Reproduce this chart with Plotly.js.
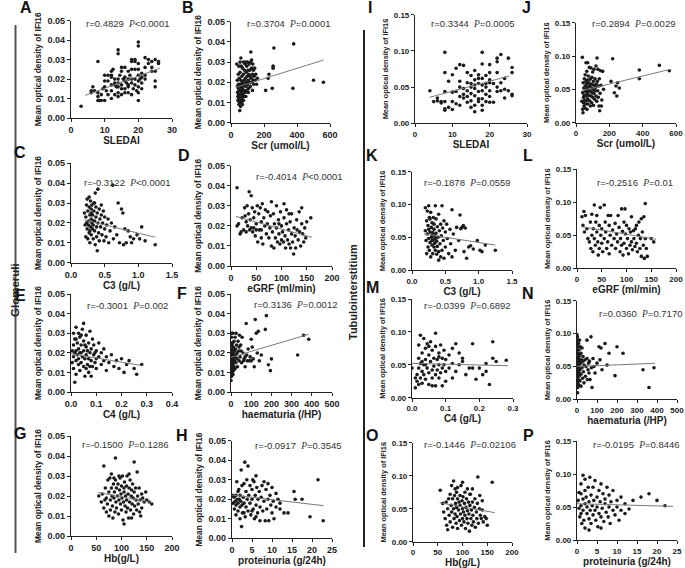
<!DOCTYPE html>
<html>
<head>
<meta charset="utf-8">
<script src="https://cdn.plot.ly/plotly-3.0.1.min.js"></script>
<style>
  html, body { margin: 0; padding: 0; background: #fff; }
  #plot { width: 685px; height: 568px; }
</style>
</head>
<body>
<div id="plot"></div>
<script>
// ---- data: [x, mean optical density of IFI16] ----
var ptsA = [[3,0.006],[6,0.014],[6,0.013],[6.5,0.016],[7,0.014],[8,0.029],[8,0.009],[8,0.011],[8,0.013],[8.5,0.009],[9,0.009],[9,0.012],[9.5,0.015],[10,0.009],[10,0.016],[10,0.019],[10,0.022],[10.5,0.014],[11,0.022],[11,0.012],[11,0.019],[12,0.022],[12,0.021],[12,0.017],[12,0.014],[12,0.010],[12,0.024],[12.5,0.025],[13,0.018],[13,0.017],[13,0.012],[13,0.020],[13.5,0.016],[14,0.035],[14,0.033],[14,0.018],[14,0.016],[14,0.013],[14,0.011],[14,0.020],[14.5,0.022],[15,0.026],[15,0.024],[15,0.017],[15,0.012],[15,0.015],[15.5,0.020],[16,0.026],[16,0.021],[16,0.019],[16,0.013],[16,0.015],[16.5,0.018],[17,0.024],[17,0.020],[17,0.017],[17,0.013],[17,0.016],[17.5,0.022],[18,0.025],[18,0.030],[18,0.029],[18,0.020],[18,0.018],[18,0.012],[18.5,0.015],[19,0.030],[19,0.029],[19,0.025],[19,0.020],[19,0.017],[19.5,0.014],[20,0.039],[20,0.037],[20,0.028],[20,0.025],[20,0.022],[20,0.019],[20,0.016],[20,0.013],[20,0.009],[20.5,0.020],[21,0.021],[21,0.018],[21,0.015],[21,0.023],[22,0.031],[22,0.026],[22,0.022],[22,0.020],[23,0.030],[23,0.028],[24,0.029],[24,0.026],[24,0.024],[25,0.030],[25,0.024],[25,0.019],[25,0.016],[26,0.029],[26,0.028]];
var ptsB = [[35,0.029],[38,0.021],[40,0.018],[40,0.015],[42,0.013],[42,0.011],[44,0.024],[45,0.019],[45,0.017],[46,0.014],[47,0.012],[48,0.009],[48,0.028],[50,0.022],[50,0.016],[51,0.010],[52,0.013],[53,0.006],[54,0.019],[55,0.030],[55,0.025],[56,0.014],[57,0.011],[58,0.018],[58,0.008],[60,0.021],[60,0.016],[61,0.013],[62,0.028],[63,0.010],[64,0.019],[65,0.015],[66,0.023],[67,0.012],[68,0.017],[69,0.009],[70,0.027],[70,0.020],[72,0.014],[73,0.018],[75,0.030],[75,0.024],[76,0.011],[78,0.016],[80,0.021],[80,0.013],[82,0.026],[84,0.019],[85,0.029],[86,0.015],[88,0.022],[90,0.030],[90,0.018],[92,0.025],[94,0.020],[95,0.016],[96,0.028],[98,0.023],[100,0.019],[100,0.030],[103,0.026],[105,0.021],[107,0.017],[108,0.024],[110,0.029],[112,0.020],[114,0.026],[115,0.023],[117,0.018],[119,0.030],[120,0.035],[122,0.022],[124,0.027],[125,0.031],[127,0.020],[130,0.024],[132,0.029],[134,0.021],[136,0.026],[138,0.019],[140,0.023],[143,0.027],[146,0.021],[150,0.024],[155,0.019],[160,0.022],[90,0.013],[105,0.015],[60,0.032],[130,0.016],[210,0.016],[225,0.022],[230,0.024],[250,0.017],[255,0.028],[255,0.027],[260,0.037],[380,0.039],[375,0.017],[500,0.021],[560,0.020]];
var ptsC = [[0.2,0.025],[0.21,0.019],[0.22,0.023],[0.22,0.013],[0.23,0.020],[0.23,0.029],[0.24,0.017],[0.24,0.032],[0.25,0.026],[0.25,0.012],[0.26,0.021],[0.26,0.019],[0.27,0.028],[0.27,0.015],[0.28,0.024],[0.28,0.010],[0.29,0.018],[0.29,0.031],[0.3,0.022],[0.3,0.027],[0.3,0.014],[0.31,0.020],[0.31,0.029],[0.32,0.017],[0.32,0.024],[0.33,0.012],[0.33,0.019],[0.34,0.030],[0.34,0.026],[0.35,0.021],[0.35,0.016],[0.36,0.035],[0.36,0.009],[0.37,0.023],[0.37,0.028],[0.38,0.018],[0.38,0.013],[0.39,0.006],[0.39,0.025],[0.4,0.037],[0.4,0.020],[0.41,0.015],[0.42,0.027],[0.42,0.011],[0.43,0.022],[0.44,0.018],[0.45,0.024],[0.45,0.029],[0.46,0.014],[0.47,0.020],[0.48,0.026],[0.49,0.011],[0.5,0.017],[0.5,0.023],[0.52,0.013],[0.53,0.019],[0.55,0.022],[0.56,0.010],[0.58,0.016],[0.6,0.020],[0.62,0.039],[0.63,0.012],[0.65,0.018],[0.68,0.014],[0.7,0.030],[0.72,0.010],[0.75,0.027],[0.77,0.025],[0.78,0.009],[0.8,0.017],[0.82,0.010],[0.85,0.016],[0.88,0.013],[0.9,0.010],[0.93,0.012],[0.98,0.014],[1.02,0.012],[1.05,0.018],[1.1,0.011],[1.25,0.009],[0.27,0.033],[0.3,0.025],[0.33,0.021],[0.28,0.016],[0.35,0.030]];
var ptsD = [[12,0.039],[12,0.020],[15,0.021],[18,0.016],[20,0.017],[22,0.024],[25,0.018],[27,0.029],[28,0.025],[30,0.022],[30,0.017],[32,0.030],[33,0.020],[35,0.026],[36,0.037],[37,0.018],[38,0.023],[40,0.035],[40,0.019],[42,0.029],[43,0.017],[45,0.024],[45,0.019],[47,0.027],[48,0.015],[50,0.021],[50,0.018],[52,0.030],[53,0.012],[55,0.026],[56,0.018],[58,0.029],[60,0.014],[60,0.022],[62,0.031],[63,0.011],[65,0.024],[67,0.020],[68,0.028],[70,0.016],[72,0.021],[73,0.027],[75,0.014],[77,0.019],[78,0.025],[80,0.032],[80,0.010],[82,0.017],[84,0.026],[85,0.009],[86,0.021],[88,0.014],[90,0.030],[90,0.019],[92,0.012],[94,0.023],[95,0.016],[97,0.011],[98,0.027],[100,0.020],[100,0.013],[102,0.017],[104,0.012],[105,0.024],[107,0.015],[108,0.009],[110,0.021],[110,0.028],[112,0.013],[114,0.018],[115,0.011],[117,0.022],[118,0.009],[120,0.016],[120,0.026],[122,0.012],[124,0.006],[125,0.019],[127,0.015],[128,0.009],[130,0.023],[131,0.018],[133,0.013],[135,0.027],[136,0.017],[138,0.010],[140,0.029],[140,0.021],[142,0.016],[144,0.012],[146,0.019],[148,0.014],[150,0.022],[158,0.024],[105,0.031],[115,0.026],[60,0.018],[95,0.021]];
var ptsE = [[0.01,0.030],[0.01,0.024],[0.01,0.018],[0.01,0.012],[0.015,0.020],[0.015,0.027],[0.02,0.033],[0.02,0.016],[0.02,0.021],[0.02,0.009],[0.025,0.025],[0.025,0.019],[0.03,0.030],[0.03,0.014],[0.03,0.022],[0.03,0.017],[0.035,0.028],[0.035,0.011],[0.04,0.020],[0.04,0.024],[0.04,0.015],[0.045,0.032],[0.045,0.018],[0.05,0.026],[0.05,0.021],[0.05,0.013],[0.05,0.035],[0.055,0.017],[0.055,0.008],[0.06,0.023],[0.06,0.019],[0.06,0.029],[0.065,0.014],[0.065,0.021],[0.07,0.025],[0.07,0.017],[0.07,0.010],[0.075,0.020],[0.075,0.031],[0.08,0.016],[0.08,0.022],[0.085,0.013],[0.085,0.027],[0.09,0.019],[0.09,0.024],[0.095,0.015],[0.1,0.021],[0.1,0.017],[0.1,0.012],[0.11,0.018],[0.11,0.025],[0.12,0.014],[0.12,0.020],[0.13,0.016],[0.13,0.022],[0.14,0.011],[0.14,0.018],[0.15,0.015],[0.16,0.019],[0.17,0.013],[0.18,0.016],[0.19,0.012],[0.2,0.017],[0.21,0.010],[0.22,0.014],[0.23,0.016],[0.25,0.012],[0.26,0.009],[0.28,0.014],[0.02,0.027],[0.04,0.029],[0.06,0.012],[0.08,0.008],[0.015,0.005],[0.035,0.020],[0.055,0.024],[0.075,0.013],[0.095,0.020],[0.005,0.021],[0.005,0.015]];
var ptsF = [[0,0.006],[0,0.010],[0,0.013],[0,0.016],[0,0.019],[0,0.022],[0,0.025],[2,0.008],[2,0.012],[2,0.015],[2,0.018],[2,0.021],[2,0.028],[4,0.009],[4,0.011],[4,0.014],[4,0.017],[4,0.020],[4,0.024],[4,0.030],[6,0.010],[6,0.013],[6,0.016],[6,0.019],[6,0.022],[8,0.012],[8,0.015],[8,0.018],[8,0.025],[10,0.009],[10,0.014],[10,0.020],[10,0.030],[12,0.011],[12,0.017],[12,0.023],[14,0.019],[15,0.013],[15,0.026],[17,0.016],[18,0.021],[20,0.012],[20,0.018],[20,0.028],[22,0.022],[24,0.015],[25,0.019],[25,0.030],[28,0.024],[30,0.017],[30,0.020],[32,0.013],[35,0.026],[38,0.021],[40,0.016],[40,0.023],[42,0.029],[45,0.018],[48,0.024],[50,0.021],[52,0.015],[55,0.028],[60,0.020],[62,0.016],[65,0.017],[70,0.018],[70,0.013],[75,0.035],[78,0.019],[80,0.016],[85,0.022],[90,0.016],[95,0.018],[100,0.027],[100,0.016],[105,0.023],[110,0.017],[115,0.013],[120,0.037],[125,0.030],[130,0.020],[135,0.031],[140,0.016],[150,0.019],[170,0.032],[175,0.039],[185,0.014],[195,0.011],[200,0.017],[330,0.019],[360,0.029],[385,0.027]];
var ptsG = [[55,0.020],[60,0.017],[62,0.021],[65,0.035],[65,0.014],[67,0.018],[68,0.024],[70,0.012],[70,0.019],[72,0.016],[73,0.028],[75,0.022],[75,0.010],[77,0.029],[78,0.018],[78,0.013],[80,0.031],[80,0.024],[81,0.020],[82,0.015],[83,0.009],[84,0.026],[85,0.019],[86,0.022],[87,0.012],[88,0.039],[88,0.028],[89,0.017],[90,0.024],[90,0.014],[92,0.020],[93,0.026],[94,0.011],[95,0.018],[96,0.023],[97,0.029],[98,0.016],[99,0.021],[100,0.013],[100,0.025],[101,0.019],[102,0.030],[103,0.008],[104,0.017],[105,0.022],[105,0.006],[106,0.027],[107,0.015],[108,0.020],[109,0.012],[110,0.025],[110,0.018],[111,0.030],[112,0.014],[113,0.021],[114,0.009],[115,0.024],[116,0.017],[117,0.028],[118,0.013],[119,0.020],[120,0.023],[120,0.009],[121,0.016],[122,0.026],[123,0.019],[124,0.011],[125,0.037],[125,0.022],[126,0.015],[128,0.024],[129,0.018],[130,0.013],[131,0.032],[132,0.020],[133,0.016],[135,0.024],[136,0.012],[137,0.018],[138,0.010],[140,0.021],[140,0.014],[142,0.019],[145,0.017],[148,0.022],[150,0.018],[155,0.017],[160,0.016],[85,0.029],[95,0.030],[115,0.031],[105,0.024]];
var ptsH = [[0.3,0.018],[0.5,0.021],[0.6,0.015],[0.8,0.019],[1,0.017],[1,0.022],[1,0.012],[1.2,0.029],[1.3,0.020],[1.5,0.018],[1.5,0.014],[1.7,0.025],[1.8,0.020],[2,0.016],[2,0.022],[2,0.010],[2.2,0.019],[2.3,0.035],[2.4,0.006],[2.5,0.027],[2.6,0.013],[2.8,0.021],[3,0.018],[3,0.028],[3.2,0.039],[3.3,0.011],[3.5,0.024],[3.5,0.016],[3.7,0.030],[3.8,0.020],[4,0.014],[4,0.037],[4.2,0.022],[4.5,0.018],[4.5,0.027],[4.7,0.012],[5,0.025],[5,0.020],[5.2,0.030],[5.3,0.015],[5.5,0.029],[5.6,0.010],[5.8,0.022],[6,0.032],[6,0.017],[6.2,0.026],[6.4,0.013],[6.5,0.020],[6.8,0.024],[7,0.016],[7,0.009],[7.3,0.021],[7.5,0.027],[7.7,0.014],[8,0.029],[8,0.019],[8.3,0.009],[8.5,0.025],[8.7,0.015],[9,0.028],[9,0.020],[9.2,0.009],[9.5,0.022],[9.7,0.017],[10,0.026],[10,0.013],[10.3,0.019],[10.5,0.010],[11,0.023],[11,0.016],[11.5,0.020],[12,0.015],[12,0.018],[13,0.013],[14,0.013],[15.5,0.024],[15.8,0.020],[17.5,0.020],[19.5,0.011],[21.5,0.030],[22.8,0.009],[1.5,0.024],[2.5,0.017],[3,0.013],[0.2,0.022],[6,0.011],[5,0.014]];
var ptsI = [[4,0.045],[5,0.030],[6,0.031],[6,0.035],[7,0.030],[7,0.028],[8,0.098],[8,0.070],[8,0.044],[8,0.020],[8,0.018],[8,0.030],[9,0.058],[9,0.022],[10,0.067],[10,0.043],[10,0.030],[10,0.019],[11,0.076],[11,0.044],[11,0.027],[12,0.081],[12,0.058],[12,0.037],[12,0.025],[12,0.050],[13,0.080],[13,0.048],[13,0.035],[13,0.040],[14,0.070],[14,0.056],[14,0.045],[14,0.037],[14,0.029],[15,0.066],[15,0.055],[15,0.050],[15,0.041],[15,0.031],[16,0.073],[16,0.060],[16,0.053],[16,0.048],[16,0.038],[16,0.025],[16,0.016],[17,0.067],[17,0.055],[17,0.044],[17,0.034],[17,0.030],[18,0.098],[18,0.082],[18,0.062],[18,0.053],[18,0.045],[18,0.034],[18,0.025],[18,0.018],[19,0.066],[19,0.050],[19,0.040],[19,0.030],[20,0.081],[20,0.070],[20,0.060],[20,0.056],[20,0.045],[20,0.037],[20,0.029],[21,0.055],[21,0.029],[22,0.090],[22,0.085],[22,0.070],[22,0.050],[22,0.044],[23,0.095],[23,0.056],[23,0.045],[24,0.062],[24,0.047],[24,0.035],[25,0.090],[25,0.045],[26,0.077],[26,0.070],[26,0.040],[26,0.038],[19,0.055],[17,0.062],[15,0.022]];
var ptsJ = [[35,0.032],[38,0.098],[40,0.045],[40,0.020],[42,0.015],[43,0.060],[45,0.038],[45,0.030],[47,0.052],[48,0.025],[50,0.066],[50,0.041],[52,0.034],[53,0.022],[55,0.072],[55,0.055],[57,0.047],[58,0.028],[60,0.090],[60,0.062],[61,0.040],[62,0.033],[63,0.058],[65,0.077],[65,0.050],[66,0.020],[67,0.044],[68,0.064],[70,0.090],[70,0.036],[71,0.053],[72,0.028],[74,0.070],[75,0.048],[76,0.060],[78,0.041],[80,0.083],[80,0.055],[82,0.033],[84,0.065],[85,0.047],[86,0.025],[88,0.058],[90,0.082],[90,0.040],[92,0.052],[94,0.030],[95,0.068],[97,0.045],[98,0.057],[100,0.076],[100,0.038],[102,0.050],[104,0.062],[105,0.026],[107,0.044],[108,0.080],[110,0.056],[112,0.035],[114,0.066],[115,0.048],[117,0.053],[120,0.085],[120,0.040],[122,0.058],[125,0.032],[126,0.097],[128,0.062],[130,0.048],[132,0.080],[134,0.038],[136,0.055],[138,0.025],[140,0.066],[142,0.018],[145,0.044],[148,0.078],[150,0.056],[152,0.025],[155,0.034],[160,0.077],[165,0.050],[210,0.062],[220,0.096],[230,0.045],[240,0.055],[245,0.040],[250,0.060],[260,0.052],[380,0.079],[380,0.066],[500,0.086],[560,0.078]];
var ptsK = [[0.2,0.095],[0.2,0.060],[0.21,0.045],[0.22,0.025],[0.22,0.075],[0.23,0.090],[0.23,0.055],[0.24,0.035],[0.24,0.068],[0.25,0.048],[0.25,0.098],[0.26,0.080],[0.26,0.030],[0.27,0.058],[0.27,0.042],[0.28,0.088],[0.28,0.020],[0.29,0.065],[0.29,0.050],[0.3,0.072],[0.3,0.038],[0.3,0.045],[0.31,0.057],[0.31,0.025],[0.32,0.080],[0.32,0.046],[0.33,0.062],[0.33,0.035],[0.34,0.052],[0.34,0.041],[0.35,0.098],[0.35,0.030],[0.36,0.078],[0.36,0.056],[0.37,0.044],[0.37,0.024],[0.38,0.066],[0.38,0.036],[0.39,0.050],[0.4,0.085],[0.4,0.015],[0.41,0.060],[0.42,0.040],[0.43,0.070],[0.43,0.020],[0.44,0.052],[0.45,0.098],[0.45,0.030],[0.46,0.064],[0.47,0.045],[0.48,0.075],[0.48,0.018],[0.5,0.058],[0.5,0.035],[0.52,0.070],[0.53,0.048],[0.55,0.025],[0.57,0.062],[0.58,0.040],[0.6,0.092],[0.6,0.020],[0.62,0.055],[0.65,0.030],[0.67,0.065],[0.7,0.045],[0.72,0.084],[0.73,0.063],[0.75,0.065],[0.77,0.068],[0.78,0.028],[0.8,0.064],[0.82,0.018],[0.85,0.035],[0.88,0.037],[0.92,0.032],[0.98,0.045],[1.02,0.030],[1.05,0.028],[1.1,0.038],[1.25,0.030],[0.25,0.062],[0.3,0.052],[0.35,0.048],[0.27,0.078],[0.4,0.028],[0.33,0.070]];
var ptsL = [[10,0.078],[12,0.065],[14,0.086],[15,0.055],[17,0.080],[20,0.060],[22,0.045],[25,0.040],[27,0.070],[28,0.030],[30,0.082],[30,0.050],[32,0.025],[33,0.060],[35,0.096],[35,0.045],[37,0.035],[38,0.070],[40,0.080],[40,0.055],[42,0.040],[43,0.020],[45,0.065],[45,0.030],[47,0.092],[48,0.050],[50,0.060],[50,0.038],[52,0.025],[55,0.096],[55,0.045],[57,0.070],[58,0.055],[60,0.030],[62,0.040],[63,0.080],[65,0.065],[65,0.022],[67,0.050],[68,0.080],[70,0.035],[72,0.058],[75,0.045],[77,0.068],[78,0.030],[80,0.052],[82,0.040],[83,0.080],[85,0.062],[87,0.025],[88,0.045],[90,0.090],[90,0.035],[92,0.056],[93,0.020],[95,0.070],[95,0.038],[97,0.090],[98,0.052],[100,0.065],[100,0.030],[102,0.045],[104,0.022],[105,0.060],[107,0.035],[108,0.055],[110,0.078],[110,0.040],[112,0.028],[114,0.057],[115,0.045],[117,0.033],[118,0.060],[120,0.038],[120,0.065],[122,0.025],[124,0.050],[125,0.070],[127,0.030],[128,0.045],[130,0.075],[130,0.018],[132,0.055],[134,0.035],[135,0.078],[136,0.015],[138,0.098],[138,0.045],[140,0.030],[142,0.018],[150,0.045],[155,0.040]];
var ptsM = [[0.0,0.045],[0.01,0.015],[0.01,0.030],[0.015,0.025],[0.015,0.035],[0.02,0.020],[0.02,0.080],[0.02,0.060],[0.02,0.045],[0.025,0.052],[0.025,0.095],[0.025,0.030],[0.03,0.068],[0.03,0.040],[0.03,0.022],[0.035,0.090],[0.035,0.050],[0.035,0.035],[0.04,0.075],[0.04,0.058],[0.04,0.028],[0.045,0.082],[0.045,0.045],[0.05,0.065],[0.05,0.038],[0.05,0.020],[0.055,0.085],[0.055,0.055],[0.06,0.072],[0.06,0.042],[0.06,0.030],[0.065,0.060],[0.065,0.048],[0.07,0.098],[0.07,0.078],[0.07,0.035],[0.07,0.018],[0.075,0.058],[0.075,0.042],[0.08,0.068],[0.08,0.050],[0.08,0.030],[0.085,0.080],[0.085,0.038],[0.09,0.060],[0.09,0.045],[0.09,0.018],[0.095,0.072],[0.095,0.050],[0.1,0.040],[0.1,0.058],[0.1,0.025],[0.11,0.065],[0.11,0.045],[0.12,0.075],[0.12,0.052],[0.12,0.030],[0.13,0.082],[0.13,0.040],[0.14,0.068],[0.14,0.050],[0.15,0.055],[0.15,0.060],[0.16,0.035],[0.17,0.045],[0.18,0.082],[0.18,0.045],[0.19,0.028],[0.2,0.045],[0.21,0.035],[0.22,0.052],[0.22,0.040],[0.23,0.020],[0.24,0.085],[0.24,0.060],[0.25,0.055],[0.28,0.057],[0.03,0.055],[0.05,0.078],[0.08,0.062],[0.06,0.018],[0.04,0.050]];
var ptsN = [[0,0.098],[0,0.085],[0,0.070],[0,0.060],[0,0.050],[0,0.040],[0,0.030],[0,0.020],[2,0.095],[2,0.075],[2,0.055],[2,0.045],[2,0.035],[2,0.025],[3,0.065],[4,0.090],[4,0.080],[4,0.050],[4,0.038],[4,0.028],[4,0.018],[6,0.070],[6,0.058],[6,0.042],[6,0.030],[8,0.085],[8,0.062],[8,0.048],[8,0.022],[10,0.075],[10,0.052],[10,0.035],[12,0.090],[12,0.058],[12,0.040],[14,0.068],[15,0.045],[15,0.028],[17,0.080],[18,0.055],[20,0.070],[20,0.038],[20,0.020],[22,0.060],[25,0.048],[25,0.078],[28,0.032],[30,0.058],[30,0.065],[32,0.042],[35,0.052],[35,0.025],[40,0.060],[42,0.035],[45,0.050],[50,0.090],[50,0.062],[52,0.030],[55,0.045],[58,0.055],[60,0.040],[62,0.058],[65,0.030],[70,0.095],[72,0.048],[75,0.018],[80,0.062],[85,0.050],[90,0.040],[100,0.055],[110,0.080],[115,0.060],[120,0.078],[125,0.045],[140,0.085],[150,0.052],[160,0.070],[190,0.036],[200,0.080],[230,0.070],[330,0.045],[360,0.018],[385,0.048],[5,0.060],[10,0.065],[3,0.010]];
var ptsO = [[55,0.078],[60,0.058],[62,0.045],[65,0.035],[67,0.060],[68,0.025],[70,0.050],[70,0.018],[72,0.065],[73,0.040],[75,0.072],[75,0.030],[77,0.055],[78,0.085],[78,0.045],[80,0.065],[80,0.022],[82,0.092],[82,0.050],[83,0.035],[84,0.070],[85,0.080],[85,0.042],[86,0.058],[87,0.028],[88,0.075],[88,0.052],[89,0.038],[90,0.065],[90,0.020],[92,0.048],[93,0.060],[94,0.032],[95,0.070],[95,0.055],[96,0.042],[97,0.085],[98,0.025],[99,0.062],[100,0.050],[100,0.035],[101,0.068],[102,0.045],[103,0.030],[104,0.058],[105,0.075],[105,0.040],[106,0.020],[107,0.052],[108,0.065],[109,0.035],[110,0.080],[110,0.047],[111,0.028],[112,0.060],[113,0.042],[114,0.016],[115,0.055],[116,0.072],[117,0.035],[118,0.048],[119,0.025],[120,0.080],[120,0.060],[121,0.040],[122,0.030],[124,0.052],[125,0.065],[126,0.022],[128,0.045],[129,0.035],[130,0.058],[131,0.098],[132,0.028],[134,0.050],[135,0.070],[136,0.040],[138,0.035],[140,0.048],[140,0.062],[142,0.030],[145,0.038],[148,0.035],[150,0.025],[160,0.090],[90,0.082],[100,0.090],[115,0.072]];
var ptsP = [[0.3,0.060],[0.5,0.048],[0.7,0.035],[1,0.085],[1,0.070],[1,0.052],[1,0.040],[1.2,0.025],[1.5,0.062],[1.5,0.045],[1.7,0.030],[2,0.092],[2,0.075],[2,0.055],[2,0.018],[2.3,0.065],[2.5,0.040],[2.5,0.050],[2.8,0.080],[3,0.058],[3,0.032],[3.2,0.095],[3.3,0.045],[3.5,0.068],[3.5,0.025],[3.8,0.052],[4,0.080],[4,0.038],[4.2,0.060],[4.5,0.090],[4.5,0.045],[4.7,0.030],[5,0.065],[5,0.050],[5.2,0.020],[5.5,0.075],[5.5,0.040],[5.8,0.058],[6,0.085],[6,0.035],[6.3,0.048],[6.5,0.070],[6.7,0.028],[7,0.055],[7,0.062],[7.3,0.042],[7.5,0.080],[7.8,0.035],[8,0.050],[8,0.068],[8.3,0.025],[8.5,0.058],[9,0.045],[9,0.075],[9.5,0.038],[10,0.060],[10,0.050],[10.5,0.030],[11,0.045],[11,0.065],[12,0.040],[12,0.055],[13,0.047],[14,0.060],[16,0.065],[18,0.070],[20,0.060],[22,0.052],[1.5,0.098],[3,0.015],[6,0.018],[0.5,0.072]];

// regression line end points
var fitA = [[4.2,0.0116],[26.4,0.0256]];
var fitB = [[30,0.0175],[560,0.031]];
var fitC = [[0.2,0.0215],[1.25,0.0128]];
var fitD = [[10,0.0247],[160,0.0143]];
var fitE = [[0.0,0.0195],[0.28,0.0135]];
var fitF = [[0,0.0178],[385,0.0295]];
var fitG = [[54,0.0217],[162,0.0167]];
var fitH = [[0,0.0222],[22.9,0.0167]];
var fitI = [[3.9,0.0359],[25.2,0.0653]];
var fitJ = [[35,0.048],[565,0.080]];
var fitK = [[0.18,0.055],[1.25,0.038]];
var fitL = [[10,0.063],[160,0.044]];
var fitM = [[0,0.0522],[0.285,0.0486]];
var fitN = [[0,0.050],[390,0.0547]];
var fitO = [[54,0.059],[165,0.044]];
var fitP = [[0,0.055],[24,0.051]];

var statsText = {
  A: ['r=0.4829', '<0.0001'], B: ['r=0.3704', '=0.0001'], C: ['r=-0.3122', '<0.0001'], D: ['r=-0.4014', '<0.0001'],
  E: ['r=-0.3001', '=0.002'], F: ['r=0.3136', '=0.0012'], G: ['r=-0.1500', '=0.1286'], H: ['r=-0.0917', '=0.3545'],
  I: ['r=0.3344', '=0.0005'], J: ['r=0.2894', '=0.0029'], K: ['r=-0.1878', '=0.0559'], L: ['r=-0.2516', '=0.01'],
  M: ['r=-0.0399', '=0.6892'], N: ['r=0.0360', '=0.7170'], O: ['r=-0.1446', '=0.02106'], P: ['r=-0.0195', '=0.8446']
};

var W = 685, H = 568;
var left = {yr: [0, 0.05], yd: 0.01};
var right = {yr: [0, 0.15], yd: 0.05};

// panel specs: box = [x0, x1, yTop, yBottom] in px; stat = annotation centre; lab = letter position
var panels = [
  {k:'A', pts:ptsA, fit:fitA, xr:[0,30], xd:10, xf:'', xt:'SLEDAI', s:left, box:[71,172,20.7,118], stat:[127,23], lab:[26,8]},
  {k:'B', pts:ptsB, fit:fitB, xr:[0,600], xd:200, xf:'', xt:'Scr (umol/L)', s:left, box:[231,330,21.7,122.7], stat:[288,23], lab:[188,8]},
  {k:'C', pts:ptsC, fit:fitC, xr:[0,1.5], xd:0.5, xf:'.1f', xt:'C3 (g/L)', s:left, box:[71,172,163.3,262.7], stat:[127,183], lab:[20,153]},
  {k:'D', pts:ptsD, fit:fitD, xr:[0,200], xd:50, xf:'', xt:'eGRF (ml/min)', s:left, box:[231,332,165.7,266], stat:[299,176], lab:[184,155]},
  {k:'E', pts:ptsE, fit:fitE, xr:[0,0.4], xd:0.1, xf:'.1f', xt:'C4 (g/L)', s:left, box:[71,172,294,392], stat:[127,305], lab:[20,295]},
  {k:'F', pts:ptsF, fit:fitF, xr:[0,500], xd:100, xf:'', xt:'haematuria (/HP)', s:left, box:[231,332,294,392.3], stat:[295,304], lab:[182,293]},
  {k:'G', pts:ptsG, fit:fitG, xr:[0,200], xd:50, xf:'', xt:'Hb(g/L)', s:left, box:[71,172,436,536], stat:[125,444], lab:[20,433]},
  {k:'H', pts:ptsH, fit:fitH, xr:[0,25], xd:5, xf:'', xt:'proteinuria (g/24h)', s:left, box:[232,332,440.7,538.3], stat:[298,445], lab:[182,435]},
  {k:'I', pts:ptsI, fit:fitI, xr:[0,30], xd:10, xf:'', xt:'SLEDAI', s:right, box:[415,527,14.7,123.3], stat:[472,23], lab:[370,7]},
  {k:'J', pts:ptsJ, fit:fitJ, xr:[0,600], xd:200, xf:'', xt:'Scr (umol/L)', s:right, box:[576,676,22.7,122.7], stat:[633,23], lab:[526,7]},
  {k:'K', pts:ptsK, fit:fitK, xr:[0,1.5], xd:0.5, xf:'.1f', xt:'C3 (g/L)', s:right, box:[412,512,171.7,270], stat:[467,183], lab:[372,155]},
  {k:'L', pts:ptsL, fit:fitL, xr:[0,200], xd:50, xf:'', xt:'eGRF (ml/min)', s:right, box:[577,676,169.3,268.3], stat:[635,183], lab:[528,155]},
  {k:'M', pts:ptsM, fit:fitM, xr:[0,0.3], xd:0.1, xf:'.1f', xt:'C4 (g/L)', s:right, box:[412,513,299,397.7], stat:[467,306], lab:[372,287]},
  {k:'N', pts:ptsN, fit:fitN, xr:[0,500], xd:100, xf:'', xt:'haematuria (/HP)', s:right, box:[577,677,300.7,399.3], stat:[640,313], lab:[528,293]},
  {k:'O', pts:ptsO, fit:fitO, xr:[0,200], xd:50, xf:'', xt:'Hb(g/L)', s:right, box:[413,512,442.7,541.7], stat:[470,444], lab:[372,435]},
  {k:'P', pts:ptsP, fit:fitP, xr:[0,25], xd:5, xf:'', xt:'proteinuria (g/24h)', s:right, box:[577,677,441,540], stat:[636,444], lab:[528,435]}
];

var data = [];
var layout = {
  width: W, height: H,
  margin: {l: 0, r: 0, t: 0, b: 0},
  paper_bgcolor: '#fff', plot_bgcolor: '#fff',
  showlegend: false,
  font: {family: 'Liberation Sans, Arial, sans-serif', color: '#222'},
  annotations: [], shapes: []
};

panels.forEach(function (p, i) {
  var n = i === 0 ? '' : String(i + 1);
  var isLeft = p.s === left;
  data.push({
    x: p.pts.map(function (d) { return d[0]; }),
    y: p.pts.map(function (d) { return d[1]; }),
    xaxis: 'x' + n, yaxis: 'y' + n,
    type: 'scatter', mode: 'markers',
    marker: {size: 3.6, color: '#1b1b1b'},
    hoverinfo: 'skip'
  });
  data.push({
    x: p.fit.map(function (d) { return d[0]; }),
    y: p.fit.map(function (d) { return d[1]; }),
    xaxis: 'x' + n, yaxis: 'y' + n,
    type: 'scatter', mode: 'lines',
    line: {color: '#7a7a7a', width: 1},
    hoverinfo: 'skip'
  });
  var tickSize = isLeft ? 9 : 8;
  var common = {
    showgrid: false, zeroline: false, showline: true,
    linecolor: '#222', linewidth: 1.1,
    ticks: 'outside', ticklen: 3, tickwidth: 1, tickcolor: '#222',
    tickfont: {size: tickSize, weight: 'bold', color: '#222'},
    automargin: false, fixedrange: true
  };
  layout['xaxis' + n] = Object.assign({}, common, {
    domain: [p.box[0] / W, p.box[1] / W],
    range: p.xr, dtick: p.xd, tick0: 0, tickformat: p.xf,
    anchor: 'y' + n,
    title: {text: p.xt, font: {size: 10, weight: 'bold', color: '#222'}, standoff: 2}
  });
  layout['yaxis' + n] = Object.assign({}, common, {
    domain: [1 - p.box[3] / H, 1 - p.box[2] / H],
    range: p.s.yr, dtick: p.s.yd, tick0: 0, tickformat: '.2f',
    anchor: 'x' + n,
    title: {text: 'Mean optical density of IFI16', font: {size: isLeft ? 8.4 : 7.4, weight: 'bold', color: '#222'}, standoff: 4}
  });
  layout.annotations.push({
    xref: 'paper', yref: 'paper', x: p.stat[0] / W, y: 1 - p.stat[1] / H,
    xanchor: 'center', yanchor: 'middle', showarrow: false,
    text: statsText[p.k][0] + '\u00a0\u00a0<span style="font-family:Liberation Serif;font-style:italic">P</span>' + statsText[p.k][1].replace('<', '&lt;'),
    font: {size: 9.5, color: '#333'}
  });
  layout.annotations.push({
    xref: 'paper', yref: 'paper', x: p.lab[0] / W, y: 1 - p.lab[1] / H,
    xanchor: 'center', yanchor: 'middle', showarrow: false,
    text: '<b>' + p.k + '</b>',
    font: {size: 16, color: '#111'}
  });
});

// group labels and separators
layout.annotations.push({
  xref: 'paper', yref: 'paper', x: 7 / W, y: 1 - 290 / H, showarrow: false,
  textangle: -90, text: '<b>Glomeruli</b>', font: {size: 11.5, color: '#222'}
});
layout.annotations.push({
  xref: 'paper', yref: 'paper', x: 353 / W, y: 1 - 292 / H, showarrow: false,
  textangle: -90, text: '<b>Tubulointerstitium</b>', font: {size: 11, color: '#222'}
});
layout.shapes.push({type: 'line', xref: 'paper', yref: 'paper', x0: 15.5 / W, x1: 15.5 / W, y0: 1 - 25 / H, y1: 1 - 553 / H, line: {color: '#555', width: 2}});
layout.shapes.push({type: 'line', xref: 'paper', yref: 'paper', x0: 364 / W, x1: 364 / W, y0: 1 - 30 / H, y1: 1 - 547 / H, line: {color: '#222', width: 2}});

Plotly.newPlot('plot', data, layout, {staticPlot: true, displayModeBar: false});
</script>
</body>
</html>
